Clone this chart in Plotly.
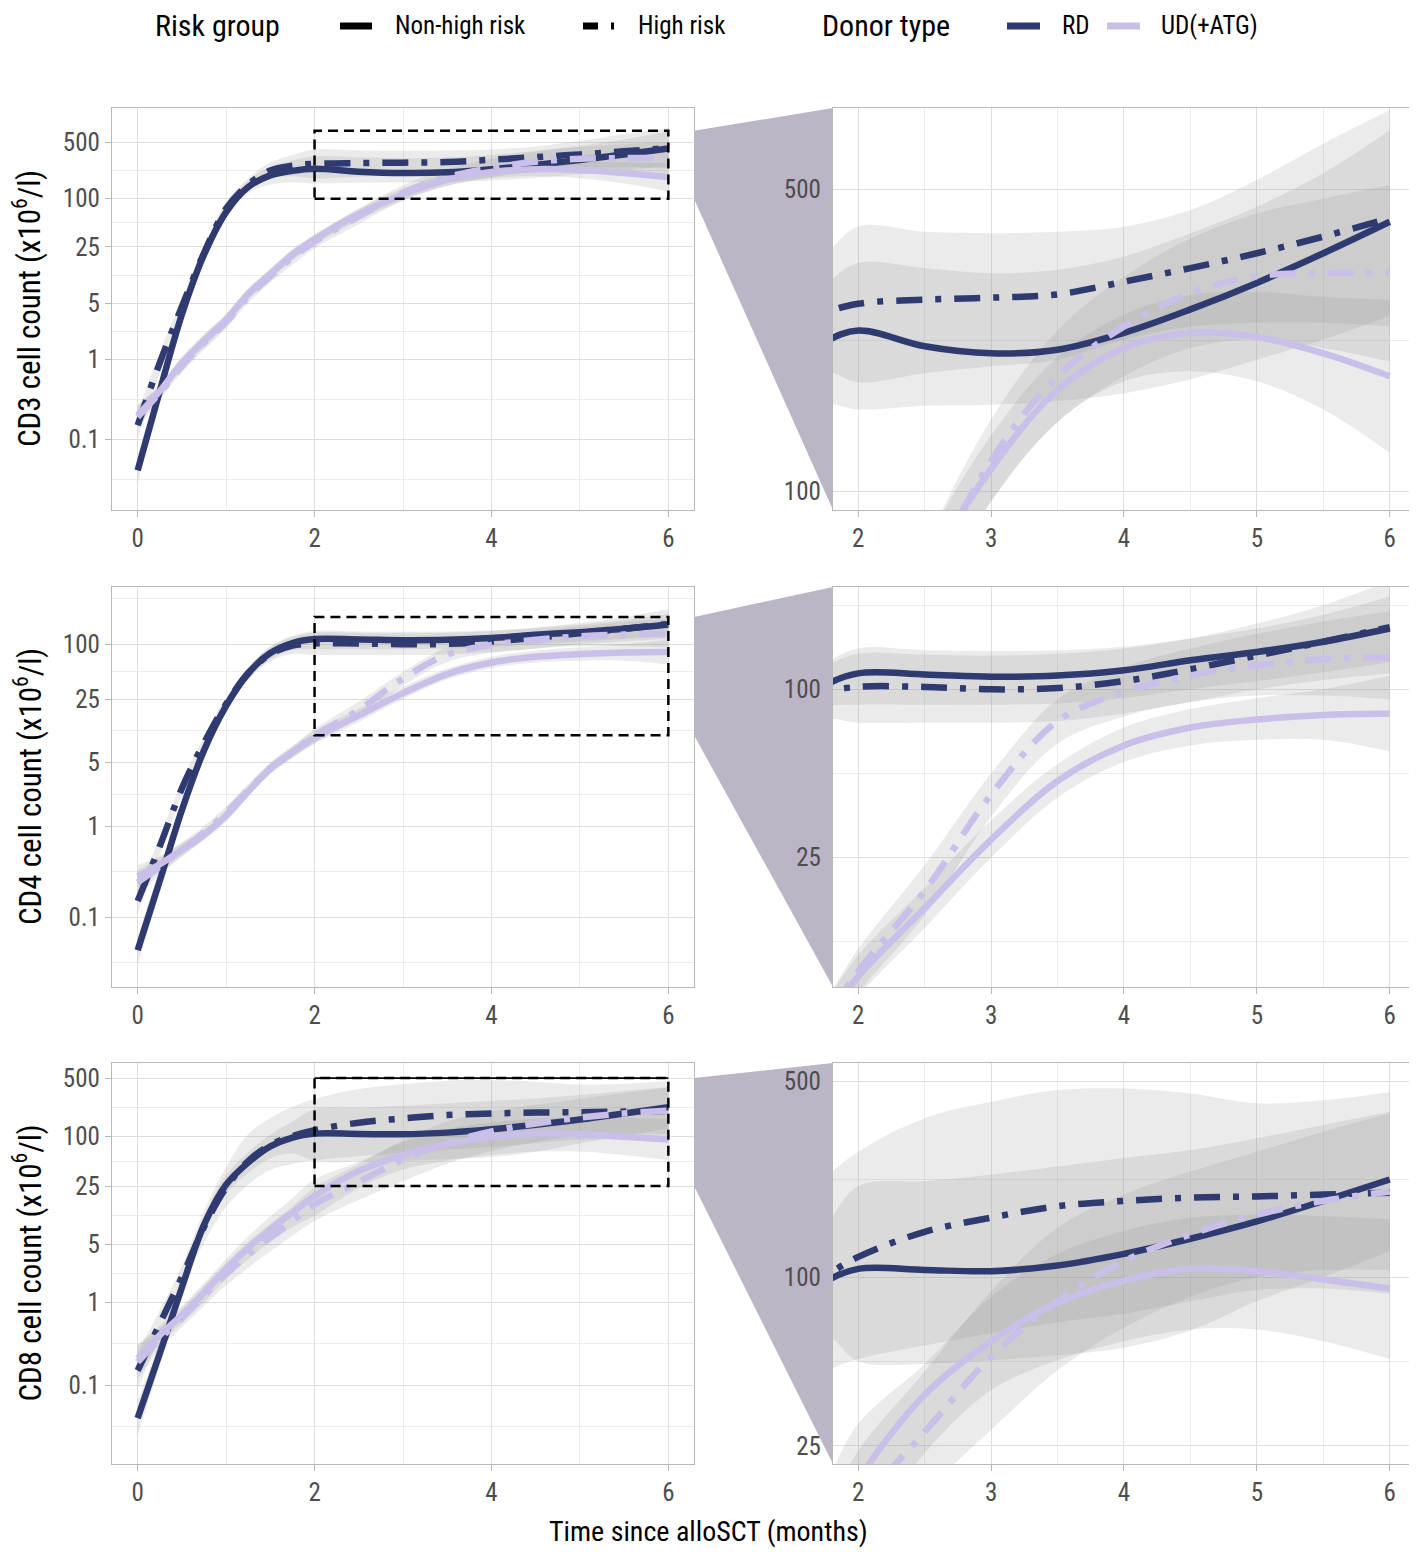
import numpy as np
import plotly.graph_objects as go

W, H = 1417, 1558
OFF = 8  # page body margin of the browser
FW, FH = W - 2 * OFF, H - 2 * OFF
FONT = "Liberation Sans Narrow, Roboto Condensed, Roboto, sans-serif"

months = [0, 0.25, 0.5, 0.75, 1, 1.25, 1.5, 1.75, 2, 2.5, 3, 3.5, 4, 4.5, 5, 5.5, 6]

# CD3 (x10^6/l): fitted curve, lower / upper band
cd3_rd_nonhigh = [0.041, 0.40, 3.6, 20, 68, 140, 195, 222, 236, 217, 209, 213, 233, 264, 304, 356, 421]
cd3_rd_nonhigh_lo = [0.028, 0.30, 2.9, 16.5, 57, 118, 150, 160, 155, 158, 159, 162, 169, 182, 202, 225, 255]
cd3_rd_nonhigh_hi = [0.06, 0.53, 4.5, 24.5, 82, 168, 250, 300, 338, 329, 320, 326, 350, 396, 456, 545, 685]
cd3_rd_high = [0.15, 0.9, 4.5, 21, 75, 150, 225, 258, 272, 278, 281, 286, 306, 329, 356, 389, 429]
cd3_rd_high_lo = [0.10, 0.68, 3.6, 17, 62, 125, 180, 190, 179, 188, 195, 202, 225, 241, 246, 246, 241]
cd3_rd_high_hi = [0.22, 1.2, 5.6, 26, 91, 180, 282, 350, 410, 399, 396, 399, 410, 448, 526, 638, 762]
cd3_ud_nonhigh = [0.20, 0.40, 0.9, 1.7, 3.1, 6.5, 11.5, 20, 31, 64, 113, 172, 215, 233, 228, 209, 185]
cd3_ud_nonhigh_lo = [0.15, 0.33, 0.75, 1.4, 2.6, 5.5, 9.8, 17, 26.5, 54, 95, 145, 180, 190, 180, 155, 123]
cd3_ud_nonhigh_hi = [0.27, 0.48, 1.08, 2.05, 3.7, 7.7, 13.5, 23.5, 36, 75, 135, 205, 257, 285, 290, 282, 278]
cd3_ud_high = [0.19, 0.38, 0.82, 1.6, 2.9, 6.0, 10.8, 18.5, 29, 60, 118, 185, 241, 288, 315, 320, 320]
cd3_ud_high_lo = [0.14, 0.31, 0.68, 1.3, 2.4, 5.0, 9.0, 15, 24, 48, 95, 145, 185, 215, 225, 215, 200]
cd3_ud_high_hi = [0.26, 0.47, 1.0, 2.0, 3.5, 7.2, 13, 23, 35, 75, 147, 236, 314, 385, 440, 476, 512]

# CD4
cd4_rd_nonhigh = [0.043, 0.25, 1.5, 6.8, 21, 48, 80, 103, 114, 113, 111, 112, 117, 127, 136, 148, 165]
cd4_rd_nonhigh_lo = [0.03, 0.19, 1.25, 5.8, 18, 41, 68, 86, 88, 88, 88, 89, 93, 100, 107, 115, 125]
cd4_rd_nonhigh_hi = [0.062, 0.33, 1.8, 8.0, 24.5, 56, 94, 123, 140, 138, 137, 138, 142, 152, 165, 185, 215]
cd4_rd_high = [0.15, 0.6, 2.6, 8.2, 22, 48, 78, 97, 102, 102, 100, 101, 107, 118, 132, 148, 167]
cd4_rd_high_lo = [0.11, 0.48, 2.2, 7.0, 18.8, 41, 65, 78, 76, 76, 76, 77, 82, 90, 100, 108, 114]
cd4_rd_high_hi = [0.2, 0.75, 3.1, 9.6, 26, 56, 94, 120, 134, 133, 132, 134, 140, 152, 172, 200, 245]
cd4_ud_nonhigh = [0.28, 0.38, 0.55, 0.8, 1.3, 2.4, 4.3, 6.5, 9.4, 16.5, 29, 47, 63, 73, 78, 81, 82]
cd4_ud_nonhigh_lo = [0.21, 0.31, 0.47, 0.7, 1.12, 2.1, 3.8, 5.7, 8.0, 14, 25, 41, 55, 63, 66, 66, 60]
cd4_ud_nonhigh_hi = [0.37, 0.47, 0.65, 0.92, 1.5, 2.75, 4.9, 7.5, 11.2, 19.5, 34, 54, 73, 85, 93, 100, 112]
cd4_ud_high = [0.24, 0.36, 0.55, 0.85, 1.4, 2.5, 4.3, 6.5, 9.8, 19, 42, 77, 98, 112, 122, 128, 130]
cd4_ud_high_lo = [0.17, 0.29, 0.46, 0.72, 1.2, 2.15, 3.7, 5.6, 8.2, 15.5, 35, 64, 80, 90, 95, 95, 92]
cd4_ud_high_hi = [0.33, 0.45, 0.66, 1.0, 1.65, 2.9, 5.0, 7.6, 11.8, 23.5, 50, 92, 120, 140, 158, 175, 190]

# CD8
cd8_rd_nonhigh = [0.04, 0.24, 1.5, 8.5, 26, 48, 75, 96, 107, 106, 105, 110, 121, 137, 158, 187, 223]
cd8_rd_nonhigh_lo = [0.025, 0.17, 1.15, 6.8, 20, 36, 54, 62, 50, 49, 50.5, 52.6, 56, 64.5, 82, 100, 124]
cd8_rd_nonhigh_hi = [0.065, 0.34, 2.0, 10.6, 34, 64, 104, 150, 211, 220, 232, 248, 266, 284, 313, 349, 389]
cd8_rd_high = [0.15, 0.55, 2.0, 8.0, 24, 50, 78, 100, 118, 145, 163, 179, 187, 192, 194, 197, 200]
cd8_rd_high_lo = [0.09, 0.38, 1.5, 5.2, 14, 26, 39, 46, 51, 57, 63, 69, 74, 82, 90, 91, 87]
cd8_rd_high_hi = [0.25, 0.8, 2.7, 12.5, 42, 105, 165, 225, 280, 369, 422, 465, 471, 452, 417, 428, 458]
cd8_ud_nonhigh = [0.21, 0.40, 0.7, 1.3, 2.5, 4.5, 7.5, 12, 19, 38, 59, 81, 97, 107, 105, 98, 91]
cd8_ud_nonhigh_lo = [0.14, 0.31, 0.55, 1.0, 1.9, 3.3, 5.3, 8.0, 11, 23.5, 39.5, 50.5, 59, 65, 65, 59, 51]
cd8_ud_nonhigh_hi = [0.31, 0.52, 0.9, 1.7, 3.3, 6.2, 10.8, 18, 30, 49, 85, 121, 146, 163, 167, 165, 161]
cd8_ud_high = [0.19, 0.36, 0.65, 1.2, 2.2, 3.7, 6.0, 9.5, 15, 28, 52, 82, 114, 142, 167, 187, 202]
cd8_ud_high_lo = [0.12, 0.27, 0.5, 0.9, 1.6, 2.6, 4.1, 6.3, 9.5, 17, 28.5, 46.5, 66, 85, 100, 106, 106]
cd8_ud_high_hi = [0.3, 0.48, 0.85, 1.6, 3.0, 5.3, 8.8, 14.3, 24, 46, 89, 150, 197, 238, 280, 330, 384]

cell_types = ["CD3", "CD4", "CD8"]
zoom_boxes = [[100, 700], [10, 200], [25, 500]]
left_ticks = [[0.1, 1, 5, 25, 100, 500], [0.1, 1, 5, 25, 100], [0.1, 1, 5, 25, 100, 500]]
right_ticks = [[100, 500], [25, 100], [25, 100, 500]]
tick_labels = {0.1: "0.1", 1: "1", 5: "5", 25: "25", 100: "100", 500: "500"}

curves = {
    "CD3": [
        (cd3_rd_nonhigh, cd3_rd_nonhigh_lo, cd3_rd_nonhigh_hi, "RD", "solid"),
        (cd3_rd_high, cd3_rd_high_lo, cd3_rd_high_hi, "RD", "dashdot"),
        (cd3_ud_nonhigh, cd3_ud_nonhigh_lo, cd3_ud_nonhigh_hi, "UD", "solid"),
        (cd3_ud_high, cd3_ud_high_lo, cd3_ud_high_hi, "UD", "dashdot"),
    ],
    "CD4": [
        (cd4_rd_nonhigh, cd4_rd_nonhigh_lo, cd4_rd_nonhigh_hi, "RD", "solid"),
        (cd4_rd_high, cd4_rd_high_lo, cd4_rd_high_hi, "RD", "dashdot"),
        (cd4_ud_nonhigh, cd4_ud_nonhigh_lo, cd4_ud_nonhigh_hi, "UD", "solid"),
        (cd4_ud_high, cd4_ud_high_lo, cd4_ud_high_hi, "UD", "dashdot"),
    ],
    "CD8": [
        (cd8_rd_nonhigh, cd8_rd_nonhigh_lo, cd8_rd_nonhigh_hi, "RD", "solid"),
        (cd8_rd_high, cd8_rd_high_lo, cd8_rd_high_hi, "RD", "dashdot"),
        (cd8_ud_nonhigh, cd8_ud_nonhigh_lo, cd8_ud_nonhigh_hi, "UD", "solid"),
        (cd8_ud_high, cd8_ud_high_lo, cd8_ud_high_hi, "UD", "dashdot"),
    ],
}

colors = {"RD": "#2e3a70", "UD": "#c9bfe9"}
dashes = {"solid": "solid", "dashdot": "26px,13px,6px,13px"}
BAND = "rgba(150,150,150,0.19)"
BORDER = "#b8b8b8"
GRID = "#dedede"
MINOR = "#ececec"

# panel positions in reference pixels: (left, right) and (top, bottom)
# (right panel edge pulled in to fit the page; its x range trimmed to match)
col_px = [(112, 694), (833, 1409)]
row_px = [(108, 510), (587, 987), (1063, 1464)]
left_yrange = [[-1.88, 3.13], [-1.77, 2.63], [-1.95, 2.88]]
x_ranges = [[-0.29, 6.29], [1.81, 6.145]]


def px_x(px):
    return min(max((px - OFF) / FW, 0), 1)


def px_y(py):
    return min(max(1 - (py - OFF) / FH, 0), 1)


def minor_vals(ticks):
    lg = np.log10(ticks)
    mids = list((lg[:-1] + lg[1:]) / 2)
    step = lg[1] - lg[0]
    mids = [lg[0] - step / 2] + mids + [lg[-1] + step / 2]
    return [10 ** m for m in mids]


fig = go.Figure()
layout = {}
shapes = []
annotations = []

for r, cell in enumerate(cell_types):
    b0, b1 = np.log10(zoom_boxes[r])
    pad = 0.05 * (b1 - b0)
    y_ranges = [left_yrange[r], [b0 - pad, b1 + pad]]
    tick_sets = [left_ticks[r], right_ticks[r]]
    ydom = [px_y(row_px[r][1]), px_y(row_px[r][0])]

    for c in range(2):
        i = r * 2 + c + 1
        sfx = "" if i == 1 else str(i)
        xdom = [px_x(col_px[c][0]), px_x(col_px[c][1])]
        xa, ya = "x" + sfx, "y" + sfx

        for mean, lo, hi, donor, risk in curves[cell]:
            fig.add_trace(go.Scatter(x=months, y=lo, xaxis=xa, yaxis=ya, mode="lines",
                                     line=dict(width=0, shape="spline"), hoverinfo="skip",
                                     showlegend=False))
            fig.add_trace(go.Scatter(x=months, y=hi, xaxis=xa, yaxis=ya, mode="lines",
                                     line=dict(width=0, shape="spline"), fill="tonexty",
                                     fillcolor=BAND, hoverinfo="skip", showlegend=False))
        for mean, lo, hi, donor, risk in curves[cell]:
            fig.add_trace(go.Scatter(x=months, y=mean, xaxis=xa, yaxis=ya, mode="lines",
                                     line=dict(color=colors[donor], width=6.5, shape="spline",
                                               dash=dashes[risk]),
                                     showlegend=False))

        if c == 0:
            xt, xm = [0, 2, 4, 6], [1, 3, 5]
        else:
            xt, xm = [2, 3, 4, 5, 6], [2.5, 3.5, 4.5, 5.5]
        axis_style = dict(showline=True, linecolor=BORDER, linewidth=1.3, mirror=True,
                          ticks="outside", ticklen=6, tickcolor=BORDER, tickwidth=1.3,
                          showgrid=True, gridcolor=GRID, gridwidth=1.3, zeroline=False,
                          tickfont=dict(size=25, color="#4d4d4d", family=FONT))
        layout["xaxis" + sfx] = dict(axis_style, domain=xdom, anchor=ya, range=x_ranges[c],
                                     tickmode="array", tickvals=xt,
                                     minor=dict(tickmode="array", tickvals=xm, showgrid=True,
                                                gridcolor=MINOR, gridwidth=1, ticks=""))
        ticks = tick_sets[c]
        layout["yaxis" + sfx] = dict(axis_style, domain=ydom, anchor=xa, type="log",
                                     range=y_ranges[c], tickmode="array", tickvals=ticks,
                                     ticktext=[tick_labels[t] for t in ticks],
                                     minor=dict(tickmode="array", tickvals=minor_vals(ticks),
                                                showgrid=True, gridcolor=MINOR, gridwidth=1,
                                                ticks=""))

    # zoom rectangle on the left panel
    n = "" if r == 0 else str(r * 2 + 1)
    lx, ly = "x" + n, "y" + n
    shapes.append(dict(type="rect", xref=lx, yref=ly, x0=2, x1=6,
                       y0=zoom_boxes[r][0], y1=zoom_boxes[r][1],
                       line=dict(color="black", width=2.5, dash="10px,6px"), layer="above"))
    if r == 2:
        # top edge of this box shows as a solid line in the source
        shapes.append(dict(type="line", xref=lx, yref=ly, x0=2, x1=6,
                           y0=zoom_boxes[r][1], y1=zoom_boxes[r][1],
                           line=dict(color="black", width=1.8), layer="above"))

    # connector polygon between box and zoomed panel
    yr = left_yrange[r]

    def py(v):
        return ydom[0] + (v - yr[0]) / (yr[1] - yr[0]) * (ydom[1] - ydom[0])

    xl, xr = px_x(col_px[0][1]), px_x(col_px[1][0])
    shapes.append(dict(type="path", xref="paper", yref="paper", layer="below",
                       path=f"M {xl},{py(b1)} L {xr},{ydom[1]} L {xr},{ydom[0]} L {xl},{py(b0)} Z",
                       fillcolor="#bbb5c6", line=dict(width=0)))

    annotations.append(dict(text=f"{cell} cell count (x10<sup>6</sup>/l)", xref="paper",
                            yref="paper", x=px_x(28), y=(ydom[0] + ydom[1]) / 2, textangle=-90,
                            showarrow=False, xanchor="center", yanchor="middle",
                            font=dict(size=31, color="black", family=FONT)))

annotations.append(dict(text="Time since alloSCT (months)", xref="paper", yref="paper",
                        x=px_x(708), y=px_y(1531), showarrow=False, xanchor="center",
                        yanchor="middle", font=dict(size=28, color="black", family=FONT)))

# legend, drawn by hand to match the two-group layout
ly_leg = px_y(26)
legend_texts = [("Risk group", 153, 30), ("Non-high risk", 393, 25), ("High risk", 636, 25),
                ("Donor type", 820, 30), ("RD", 1060, 25), ("UD(+ATG)", 1159, 25)]
for txt, px, size in legend_texts:
    annotations.append(dict(text=txt, xref="paper", yref="paper", x=px_x(px), y=ly_leg,
                            xanchor="left", yanchor="middle", showarrow=False,
                            font=dict(size=size, color="black", family=FONT)))
legend_keys = [(340, 372, "black"), (583, 598, "black"), (611, 614, "black"),
               (1007, 1040, colors["RD"]), (1107, 1140, colors["UD"])]
for x0, x1, col in legend_keys:
    shapes.append(dict(type="line", xref="paper", yref="paper", x0=px_x(x0), x1=px_x(x1),
                       y0=ly_leg, y1=ly_leg, line=dict(color=col, width=7)))

fig.update_layout(
    width=FW, height=FH,
    margin=dict(l=0, r=0, t=0, b=0),
    paper_bgcolor="white", plot_bgcolor="white",
    font=dict(family=FONT),
    showlegend=False,
    shapes=shapes,
    annotations=annotations,
    **layout,
)

fig.write_html("out.html")
